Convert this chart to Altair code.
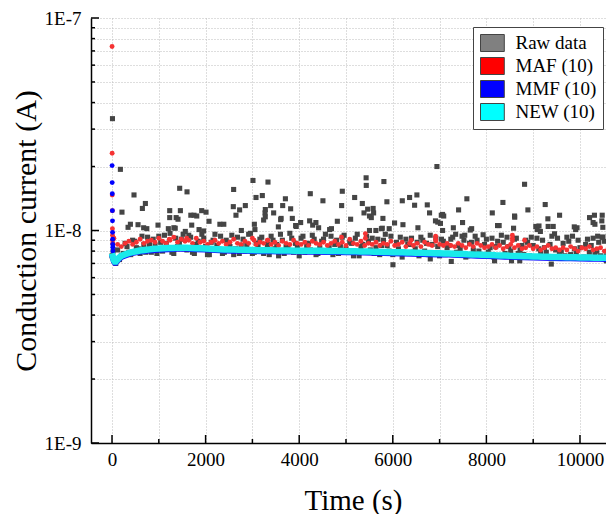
import altair as alt
import pandas as pd

E = 1e-9
FONT = "Liberation Serif"

series_names = ["Raw data", "MAF (10)", "MMF (10)", "NEW (10)"]
series_colors = ["#808080", "#ff0000", "#0000ff", "#00ffff"]

# ---- NEW (10) filtered series (cyan band), values in 1e-9 A
new_t = [0, 20, 40, 60, 80, 100, 150, 200] + list(range(300, 10801, 100))
new_v = [7.8, 7.5, 7.25, 7.15, 7.15, 7.25, 7.45, 7.6,
         7.75, 7.88, 7.97, 8.05, 8.10, 8.15, 8.20, 8.22, 8.25, 8.27,
         8.28, 8.30, 8.30, 8.29, 8.28, 8.26, 8.24, 8.22, 8.20, 8.18,
         8.17, 8.15, 8.14, 8.13, 8.12, 8.11, 8.10, 8.09, 8.08, 8.08,
         8.07, 8.07, 8.06, 8.06, 8.05, 8.05, 8.04, 8.04, 8.03, 8.03,
         8.02, 8.02, 8.02, 8.01, 8.01, 8.00, 8.00, 7.99, 7.99, 7.98,
         7.97, 7.97, 7.96, 7.95, 7.94, 7.93, 7.92, 7.91, 7.90, 7.89,
         7.88, 7.87, 7.86, 7.85, 7.84, 7.83, 7.82, 7.81, 7.80, 7.79,
         7.78, 7.76, 7.75, 7.73, 7.72, 7.70, 7.69, 7.67, 7.66, 7.64,
         7.63, 7.62, 7.60, 7.59, 7.58, 7.57, 7.56, 7.55, 7.54, 7.53,
         7.52, 7.51, 7.50, 7.50, 7.49, 7.48, 7.48, 7.47, 7.46, 7.46,
         7.45, 7.45, 7.44, 7.44, 7.43, 7.43]

# ---- MMF (10) series (blue), band just under the cyan one
mmf_t = [0, 20, 40, 60, 80, 100, 150, 200] + list(range(400, 10801, 200))
mmf_v = [7.7, 7.4, 7.15, 7.05, 7.05, 7.15, 7.35, 7.5,
         7.80, 7.96, 8.06, 8.12, 8.17, 8.20, 8.20, 8.17, 8.13, 8.09,
         8.06, 8.04, 8.02, 8.00, 7.99, 7.98, 7.97, 7.97, 7.96, 7.95,
         7.94, 7.93, 7.92, 7.91, 7.90, 7.88, 7.86, 7.84, 7.82, 7.80,
         7.78, 7.76, 7.74, 7.72, 7.70, 7.67, 7.64, 7.61, 7.58, 7.56,
         7.53, 7.51, 7.48, 7.46, 7.44, 7.42, 7.41, 7.40, 7.38, 7.37,
         7.36, 7.35, 7.34]
mmf_start_t = [2, 4, 6, 8, 10, 12, 14, 16, 18, 20]
mmf_start_v = [20.2, 16.8, 14.9, 12.4, 11.1, 9.8, 9.1, 8.6, 8.35, 8.0]

# ---- MAF (10) series (red)
maf_start_t = [1, 3, 5, 7, 9, 11, 13, 15]
maf_start_v = [73.4, 23.1, 14.7, 12.4, 10.2, 9.5, 9.0, 8.7]
maf_t = list(range(40, 10801, 80))
maf_v = [9.2, 8.6, 8.4, 8.7, 8.9, 8.6, 8.8, 9.1, 8.7, 8.9,
         9.0, 8.8, 9.2, 8.9, 8.7, 9.0, 9.3, 8.8, 9.1, 8.9,
         9.0, 8.7, 9.2, 8.8, 8.9, 8.6, 8.8, 9.0, 8.7, 8.9,
         8.6, 8.8, 9.1, 8.7, 8.6, 8.9, 8.7, 9.2, 8.6, 8.8,
         8.7, 9.0, 8.6, 8.8, 8.5, 8.9, 8.7, 8.6, 9.0, 8.7,
         8.6, 8.8, 8.5, 8.9, 8.7, 8.6, 8.8, 8.5, 8.7, 8.9,
         8.6, 8.8, 8.5, 9.1, 8.7, 8.6, 8.9, 8.5, 8.7, 8.6,
         8.8, 8.5, 8.7, 8.6, 8.9, 8.5, 8.6, 8.8, 8.4, 8.7,
         8.5, 8.7, 8.4, 8.8, 8.6, 8.5, 8.9, 8.6, 8.5, 8.7,
         8.5, 8.4, 8.7, 8.5, 8.3, 8.6, 8.4, 8.7, 8.5, 8.3,
         8.4, 8.6, 8.3, 8.5, 8.2, 8.4, 8.6, 8.3, 8.5, 8.2,
         8.3, 8.5, 8.2, 8.4, 8.1, 8.3, 8.5, 8.2, 8.3, 8.1,
         8.3, 8.1, 8.4, 8.2, 8.0, 8.3, 8.2, 8.4, 8.1, 8.2,
         8.3, 8.0, 8.2, 8.4, 8.1]
maf_spike_t = [1224, 1596, 3035, 3329, 4905, 5414, 5414, 6393, 6915, 6915, 8556, 8556, 8556, 8816]
maf_spike_v = [9.1, 9.2, 9.0, 9.0, 9.3, 9.65, 9.2, 9.0, 9.1, 9.4, 9.5, 9.2, 8.95, 9.0]

# ---- Raw data (grey squares): dense band
raw_a_t = list(range(0, 10801, 80))
raw_a_v = [7.6, 7.0, 7.3, 7.8, 8.4, 7.7, 8.9, 8.2, 9.4, 7.9,
           8.6, 9.1, 7.8, 8.8, 9.5, 8.3, 7.9, 9.2, 8.7, 9.6,
           8.1, 9.3, 7.8, 8.9, 9.6, 8.4, 7.7, 9.0, 8.5, 9.4,
           7.9, 8.8, 9.5, 8.2, 7.8, 9.1, 8.6, 9.7, 7.9, 8.4,
           9.3, 8.0, 7.7, 9.0, 8.6, 9.6, 7.8, 8.3, 9.2, 8.7,
           7.6, 9.4, 8.5, 8.1, 9.1, 7.8, 8.9, 9.6, 8.3, 7.7,
           9.0, 8.4, 9.5, 7.9, 8.7, 9.2, 7.6, 8.6, 9.4, 8.1,
           7.8, 9.1, 8.5, 9.6, 8.0, 7.7, 8.8, 9.3, 7.9, 8.6,
           9.2, 8.2, 7.6, 9.0, 8.7, 9.5, 7.8, 8.4, 9.1, 7.7,
           8.5, 9.3, 7.9, 8.2, 9.0, 7.6, 8.8, 9.4, 8.0, 7.7,
           9.1, 8.3, 7.5, 8.9, 9.5, 7.8, 8.4, 7.6, 9.2, 8.1,
           7.7, 8.8, 9.3, 7.5, 8.2, 9.0, 7.9, 8.6, 7.4, 9.2,
           8.0, 7.6, 8.9, 9.4, 7.8, 8.3, 7.5, 9.1, 8.5, 7.7,
           8.8, 9.3, 7.6, 8.2, 9.0, 7.8]
raw_b_t = list(range(40, 10801, 80))
raw_b_v = [7.2, 8.1, 7.6, 8.7, 7.9, 9.0, 8.3, 7.8, 8.6, 9.3,
           7.9, 8.5, 9.4, 8.0, 8.7, 9.7, 7.8, 8.4, 9.1, 8.2,
           9.5, 7.9, 8.6, 8.2, 9.2, 7.7, 8.8, 9.6, 8.1, 7.8,
           9.0, 8.4, 7.7, 9.3, 8.5, 8.0, 9.6, 7.8, 8.7, 9.1,
           7.8, 8.6, 9.4, 8.2, 7.6, 9.0, 8.4, 9.7, 7.9, 8.5,
           9.2, 7.9, 8.7, 9.5, 7.7, 8.3, 9.1, 8.0, 9.4, 8.6,
           7.8, 9.3, 8.2, 8.8, 7.6, 9.6, 8.4, 7.9, 8.9, 9.2,
           8.3, 7.7, 9.0, 8.5, 9.4, 7.8, 8.2, 7.5, 9.1, 8.6,
           7.9, 8.8, 9.3, 8.0, 7.7, 8.6, 9.2, 7.6, 8.9, 8.3,
           9.1, 7.8, 8.5, 9.4, 7.5, 8.7, 8.1, 9.0, 7.7, 8.6,
           7.9, 9.2, 8.4, 7.6, 8.8, 9.3, 8.0, 9.1, 7.8, 8.5,
           9.0, 7.6, 8.5, 9.2, 7.8, 8.3, 7.5, 9.4, 8.1, 7.7,
           8.7, 9.3, 7.7, 8.2, 9.0, 7.4, 8.6, 7.9, 9.2, 8.0,
           7.6, 8.9, 9.4, 7.8, 8.3]
# Raw data: scattered points above/below the band
raw_c_t = [10, 24, 179, 470, 713, 649, 213, 393, 343, 556, 676, 744, 983, 1446, 1603,
           1233, 1461, 1233, 1371, 1410, 1684, 1752, 1811, 1916, 2009, 2073, 1322, 1351,
           1703, 1204, 1566, 1860, 1958, 2305, 2389, 2599, 2592, 2727, 2849, 2649, 2764,
           3012, 3077, 3212, 3276, 3240, 3042, 3054,
           3333, 3270, 3275, 3390, 3454, 3705, 3647, 3817, 3604, 3613, 3853, 3924, 3936,
           3555, 4031, 4237, 4507, 4223, 4288, 4357, 4415, 4650, 4689, 4815, 4921, 4907,
           5099, 5185, 5430, 5433, 5349, 5385, 5463, 5502, 5580, 5590, 5541, 5810, 5874,
           5789, 5757, 5776, 5923, 5502, 5639, 6038, 6217, 6203, 6359, 6515, 6466, 6537,
           6737, 6786, 6943, 6912, 6961, 7019, 7036, 6003, 6801, 7064,
           8816, 7583, 8353, 7406, 8126, 8887, 9257, 8602, 8605, 9564, 9314, 10205, 10309,
           10475, 10467, 7491, 7294, 7063, 7088, 7685, 7656, 8238, 8273, 8581, 9056, 9124,
           9085, 9320, 9428, 9154, 9456, 9878, 9937, 9907, 10280, 10319, 10488, 10377,
           10475, 9387, 7250, 8537, 8713, 10563, 8175, 7343, 7538, 7930, 10632]
raw_c_v = [33.6, 8.0, 19.4, 14.7, 13.4, 12.7, 12.2, 10.7, 10.35, 10.65, 10.3, 10.2, 10.6, 15.8, 15.2,
           12.4, 12.4, 11.5, 11.5, 11.3, 11.8, 11.8, 11.7, 12.4, 12.2, 11.05, 10.3, 10.25,
           10.6, 10.2, 9.9, 10.1, 9.95, 10.7, 10.7, 15.6, 12.95, 12.5, 13.1, 11.8, 10.0,
           17.2, 14.3, 14.6, 12.55, 11.2, 10.7, 10.1,
           16.9, 12.1, 11.6, 13.1, 12.1, 14.1, 13.1, 12.65, 11.25, 11.4, 11.4, 10.55, 10.45,
           10.4, 10.9, 14.9, 13.8, 11.1, 10.6, 10.9, 10.3, 10.1, 10.2, 11.05, 15.3, 13.1,
           11.3, 14.3, 17.7, 16.3, 13.4, 12.1, 12.6, 11.7, 12.7, 12.1, 11.5, 17.0, 13.65,
           11.4, 10.2, 10.25, 10.2, 10.0, 10.0, 10.85, 10.65, 13.8, 14.3, 14.7, 13.15, 10.3,
           13.2, 12.1, 20.0, 11.1, 10.95, 10.8, 11.8, 6.9, 7.35, 10.0,
           16.5, 14.1, 13.55, 12.5, 12.1, 12.5, 13.25, 11.7, 11.55, 11.8, 11.35, 11.5, 11.8,
           11.8, 11.1, 10.9, 10.3, 11.9, 11.7, 10.2, 10.05, 10.55, 10.55, 10.25, 10.45, 10.5,
           10.1, 10.45, 10.45, 9.9, 9.65, 10.4, 10.3, 10.1, 10.9, 10.7, 10.35, 9.4,
           9.3, 6.95, 7.15, 7.2, 7.2, 7.2, 7.2, 9.6, 9.5, 9.55, 12.2]

# ---- axes / ticks
x_grid_vals = list(range(0, 10001, 1000))
x_major = [0, 2000, 4000, 6000, 8000, 10000]
x_minor = [1000, 3000, 5000, 7000, 9000]
y_major = [1e-9, 1e-8, 1e-7]
y_minor = [k * 1e-9 for k in range(2, 10)] + [k * 1e-8 for k in range(2, 10)]
y_grid_vals = sorted(y_major + y_minor)

W, H = 515, 425


def df(ts, vs):
    return pd.DataFrame({"t": ts, "v": [v * E for v in vs]})


xs = alt.Scale(domain=[-449, 10556], nice=False, zero=False)
ys = alt.Scale(type="log", domain=[1e-9, 1e-7], nice=False)

xaxis = alt.Axis(values=x_grid_vals,
                 labelExpr="datum.value % 2000 == 0 ? '' + datum.value : ''",
                 grid=True, gridDash=[1, 2], gridColor="#bdbdbd", gridWidth=1,
                 ticks=False, domainColor="black", domainWidth=1.5,
                 labelFont=FONT, labelFontSize=19, labelColor="black", labelPadding=7,
                 labelOverlap=False, labelFlush=False,
                 titleFont=FONT, titleFontSize=29, titleFontWeight="normal",
                 titleColor="black", titleX=262, titleY=66, titleAlign="center",
                 titleBaseline="alphabetic")
yaxis = alt.Axis(values=y_grid_vals,
                 labelExpr="abs(log(datum.value)/LN10 - round(log(datum.value)/LN10)) < 0.001 ? '1E' + round(log(datum.value)/LN10) : ''",
                 grid=True, gridDash=[1, 2], gridColor="#bdbdbd", gridWidth=1,
                 ticks=False, domainColor="black", domainWidth=1.5,
                 labelFont=FONT, labelFontSize=19, labelColor="black", labelPadding=10,
                 labelOverlap=False, labelFlush=False,
                 titleFont=FONT, titleFontSize=30, titleFontWeight="normal",
                 titleColor="black", titleX=-56, titleY=H / 2, titleAlign="center",
                 titleBaseline="alphabetic", titleAngle=270)

X = alt.X("t:Q", scale=xs, axis=xaxis, title="Time (s)")
Y = alt.Y("v:Q", scale=ys, axis=yaxis, title="Conduction current (A)")

raw_df = pd.concat([df(raw_a_t, raw_a_v), df(raw_b_t, raw_b_v), df(raw_c_t, raw_c_v)])
maf_df = pd.concat([df(maf_start_t, maf_start_v), df(maf_t, maf_v), df(maf_spike_t, maf_spike_v)])

raw_layer = alt.Chart(raw_df).mark_square(size=26, color="#454545", opacity=1, clip=True).encode(x=X, y=Y)
maf_layer = alt.Chart(maf_df).mark_circle(size=24, color="#f53333", opacity=1, clip=True).encode(x=X, y=Y)
mmf_line = alt.Chart(df(mmf_t, mmf_v)).mark_line(color="#1010ff", strokeWidth=6, clip=True).encode(x=X, y=Y)
mmf_pts = alt.Chart(df(mmf_start_t, mmf_start_v)).mark_circle(size=24, color="#0000ff", opacity=1, clip=True).encode(x=X, y=Y)
new_line = alt.Chart(df(new_t, new_v)).mark_line(color="#19eaea", strokeWidth=6.5, clip=True).encode(x=X, y=Y)

# legend (drawn from a dedicated invisible layer)
leg_df = pd.DataFrame({"series": series_names, "t": [5000] * 4, "v": [8e-9] * 4})
legend_layer = alt.Chart(leg_df).mark_square(opacity=0, size=10).encode(
    x=X, y=Y,
    color=alt.Color("series:N",
                    scale=alt.Scale(domain=series_names, range=series_colors),
                    legend=alt.Legend(orient="none", legendX=382, legendY=9, title=None,
                                      symbolType="M-1,-1H1.8V1H-1Z", symbolSize=289,
                                      symbolOpacity=1, symbolStrokeColor="#444444",
                                      symbolStrokeWidth=1,
                                      labelFont=FONT, labelFontSize=19, labelColor="black",
                                      labelOffset=17, rowPadding=2, padding=6.5,
                                      strokeColor="#444444", fillColor="white")))

# inward tick marks
tick_x_major = alt.Chart(pd.DataFrame({"t": x_major})).mark_rule(color="black", strokeWidth=1.5).encode(
    x=X, y=alt.value(H), y2=alt.value(H - 8))
tick_x_minor = alt.Chart(pd.DataFrame({"t": x_minor})).mark_rule(color="black", strokeWidth=1.5).encode(
    x=X, y=alt.value(H), y2=alt.value(H - 4))
tick_y_major = alt.Chart(pd.DataFrame({"v": y_major})).mark_rule(color="black", strokeWidth=1.5).encode(
    y=Y, x=alt.value(0), x2=alt.value(8))
tick_y_minor = alt.Chart(pd.DataFrame({"v": y_minor})).mark_rule(color="black", strokeWidth=1.5).encode(
    y=Y, x=alt.value(0), x2=alt.value(4))

chart = alt.layer(
    raw_layer, maf_layer, mmf_line, mmf_pts, new_line,
    tick_x_major, tick_x_minor, tick_y_major, tick_y_minor, legend_layer
).properties(
    width=W, height=H,
    autosize=alt.AutoSizeParams(type="none"),
    padding={"left": 83, "top": 10, "right": 0, "bottom": 71},
    background="white"
).configure_view(stroke=None)

chart.save("out.html", embed_options={"renderer": "svg", "actions": False})
